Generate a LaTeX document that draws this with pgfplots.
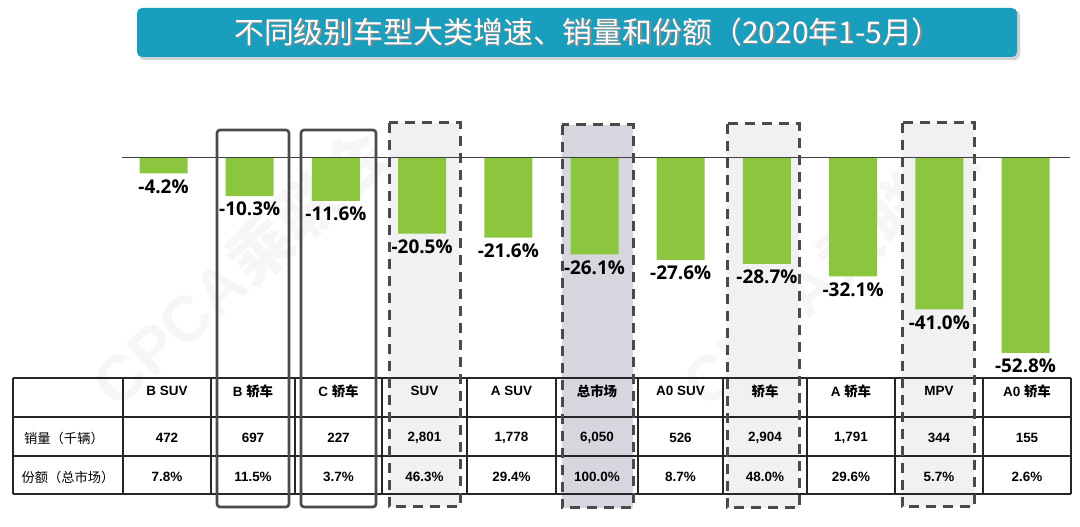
\documentclass[border=0pt]{standalone}
\usepackage{pgfplots}
\pgfplotsset{compat=1.18}
\usepackage{fontspec}
\setmainfont{Liberation Sans}
\newfontfamily\cjk{Noto Sans CJK SC}
\newfontfamily\lab{Open Sans}
\definecolor{barg}{HTML}{8CC63F}
\definecolor{teal1}{HTML}{1A9EBE}
\definecolor{lgray}{HTML}{F1F1F3}
\definecolor{dgray}{HTML}{D6D6DE}
\definecolor{boxc}{HTML}{4A4A4A}
\begin{document}
\begin{tikzpicture}
\useasboundingbox (0,0) rectangle (1080bp,527bp);
\begin{scope}[x=1bp,y=-1bp,shift={(0bp,527bp)}]
  % watermarks
  \node[rotate=42,text=black!3.5,font=\bfseries\fontsize{64}{70}\selectfont] at (240,268) {CPCA{\cjk 乘联会}};
  \node[rotate=42,text=black!3.5,font=\bfseries\fontsize{64}{70}\selectfont] at (830,268) {CPCA{\cjk 乘联会}};
  % box fills
  \fill[lgray] (389,123) rectangle (460,507);
  \fill[dgray] (562,125) rectangle (633,508);
  \fill[lgray] (727,124) rectangle (799,508);
  \fill[lgray] (902,123) rectangle (974,507);
  % title banner
  \fill[black!18,rounded corners=5bp] (139,10) rectangle (1020,60);
  \fill[teal1,rounded corners=5bp] (137,8) rectangle (1017,57);
  \node[text=black!45,inner sep=0pt] at (589.5,33.5) {\cjk\fontsize{30}{32}\selectfont 不同级别车型大类增速、销量和份额（2020年1-5月）};
  \node[text=white,inner sep=0pt] at (588,32) {\cjk\fontsize{30}{32}\selectfont 不同级别车型大类增速、销量和份额（2020年1-5月）};
\end{scope}
\begin{axis}[at={(0,0)},anchor=south west,width=1080bp,height=527bp,scale only axis,
  hide axis,clip=false,xmin=-1.8968,xmax=10.632,ymin=-100,ymax=42.82,
  ybar,bar width=48bp,
  /pgf/number format/assume math mode=true,
  nodes near coords={\pgfmathprintnumber[fixed,fixed zerofill,precision=1]{\pgfplotspointmeta}\%},
  every node near coord/.append style={font=\lab\bfseries\fontsize{19}{22}\selectfont,text=black,inner sep=3bp,yshift=-3bp}]
\addplot[fill=barg,draw=none] coordinates {(0,-4.2) (1,-10.3) (2,-11.6) (3,-20.5) (4,-21.6) (5,-26.1) (6,-27.6) (7,-28.7) (8,-32.1) (9,-41.0) (10,-52.8)};
\end{axis}
\begin{scope}[x=1bp,y=-1bp,shift={(0bp,527bp)}]
  % zero line
  \draw[black!75,line width=1bp] (122,158) -- (1070,158);
  % table grid
  \foreach \yy in {378,417,456,494} \draw[black!85,line width=1.2bp] (13,\yy) -- (1071,\yy);
  \foreach \xx in {13,123,211,295,382,467,556,638,723,807,895,983,1071} \draw[black!85,line width=1.2bp] (\xx,378) -- (\xx,494);
  % table text
  \node[font=\cjk\fontsize{13.3}{15}\selectfont] at (64,438) {销量（千辆）};
  \node[font=\cjk\fontsize{13.3}{15}\selectfont] at (68,477) {份额（总市场）};
  \foreach \cx/\hd/\sv/\sh in {
      167/{B SUV}/472/7.8\%,
      253/{B {\cjk\bfseries 轿车}}/697/11.5\%,
      338.5/{C {\cjk\bfseries 轿车}}/227/3.7\%,
      424.5/{SUV}/{2{,}801}/46.3\%,
      511.5/{A SUV}/{1{,}778}/29.4\%,
      597/{{\cjk\bfseries 总市场}}/{6{,}050}/100.0\%,
      680.5/{A0 SUV}/526/8.7\%,
      765/{{\cjk\bfseries 轿车}}/{2{,}904}/48.0\%,
      851/{A {\cjk\bfseries 轿车}}/{1{,}791}/29.6\%,
      939/{MPV}/344/5.7\%,
      1027/{A0 {\cjk\bfseries 轿车}}/155/2.6\%} {
    \node[font=\bfseries\fontsize{13.5}{15}\selectfont] at (\cx,391) {\hd};
    \node[font=\bfseries\fontsize{13.5}{15}\selectfont] at (\cx,438) {\sv};
    \node[font=\bfseries\fontsize{13.5}{15}\selectfont] at (\cx,477) {\sh};
  }
  % solid boxes
  \draw[boxc,line width=2.6bp,rounded corners=3bp] (217,130) rectangle (289,507);
  \draw[boxc,line width=2.6bp,rounded corners=3bp] (301,130) rectangle (376,507);
  % dashed boxes
  \begin{scope}[boxc,line width=3bp,dash pattern=on 10bp off 7bp]
    \draw (389,123) rectangle (460,507);
    \draw (562,125) rectangle (633,508);
    \draw (727,124) rectangle (799,508);
    \draw (902,123) rectangle (974,507);
  \end{scope}
\end{scope}
\end{tikzpicture}
\end{document}
